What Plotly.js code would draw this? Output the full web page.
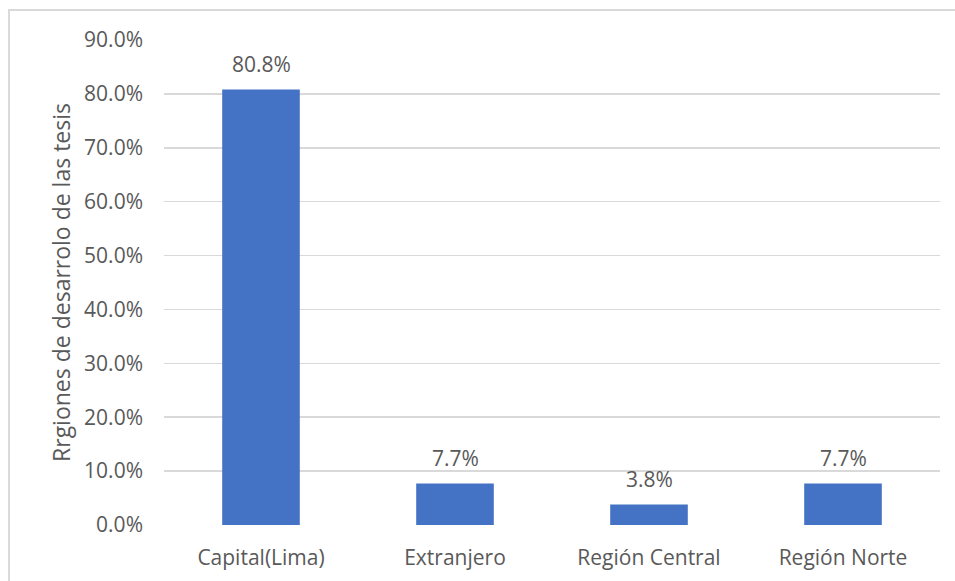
<!DOCTYPE html>
<html>
<head>
<meta charset="utf-8">
<script src="https://cdn.plot.ly/plotly-3.0.1.min.js"></script>
<style>
  html, body { margin: 0; padding: 0; background: #fff; }
  #chart { width: 955px; height: 581px; }
</style>
</head>
<body>
<div id="chart"></div>
<script>
// Regiones donde se desarrollaron las tesis (proporción)
const regiones = ['Capital(Lima)', 'Extranjero', 'Región Central', 'Región Norte'];
const proporciones = [0.808, 0.077, 0.038, 0.077];
const yTickValues = [0, 0.1, 0.2, 0.3, 0.4, 0.5, 0.6, 0.7, 0.8, 0.9];
const yAxisTitle = 'Rrgiones de desarrolo de las tesis';

const textColor = '#595959';
const gridColor = '#D9D9D9';
const barColor = '#4472C4';
const fontFamily = 'Open Sans, sans-serif';
const fontSize = 21;

const trace = {
  type: 'bar',
  x: regiones,
  y: proporciones,
  marker: { color: barColor },
  hoverinfo: 'x+y'
};

// Value labels above each bar
const labels = regiones.map((r, i) => ({
  x: r,
  y: proporciones[i],
  xref: 'x',
  yref: 'y',
  text: (proporciones[i] * 100).toFixed(1) + '%',
  showarrow: false,
  yanchor: 'bottom',
  yshift: 10,
  font: { family: fontFamily, size: fontSize, color: textColor }
}));

const layout = {
  width: 955,
  height: 581,
  margin: { l: 164, r: 15, t: 40, b: 56 },
  paper_bgcolor: '#ffffff',
  plot_bgcolor: '#ffffff',
  showlegend: false,
  bargap: 0.6,
  font: { family: fontFamily, size: fontSize, color: textColor },
  xaxis: {
    type: 'category',
    showgrid: false,
    zeroline: false,
    showline: false,
    ticks: '',
    ticklabelstandoff: 18,
    tickfont: { family: fontFamily, size: fontSize, color: textColor }
  },
  yaxis: {
    range: [0, 0.9],
    tickvals: yTickValues,
    tickformat: '.1%',
    showgrid: true,
    gridcolor: gridColor,
    gridwidth: 1.5,
    zeroline: false,
    showline: false,
    ticks: '',
    ticklabelstandoff: 20,
    tickfont: { family: fontFamily, size: fontSize, color: textColor },
    title: { text: yAxisTitle, font: { family: fontFamily, size: 23, color: textColor }, standoff: 7 }
  },
  annotations: labels,
  shapes: [{
    type: 'rect',
    xref: 'paper',
    yref: 'paper',
    x0: -0.1997,
    x1: 1.2,
    y0: -0.3,
    y1: 1.0619,
    line: { color: gridColor, width: 2 },
    layer: 'below'
  }]
};

Plotly.newPlot('chart', [trace], layout, { displayModeBar: false, staticPlot: true });
</script>
</body>
</html>
